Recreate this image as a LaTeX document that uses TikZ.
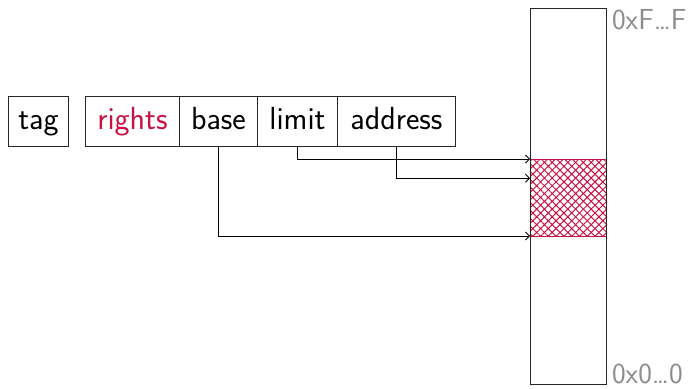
\documentclass[tikz,border=0pt]{standalone}
\usetikzlibrary{patterns.meta,calc,arrows.meta}
\definecolor{crim}{RGB}{200,16,70}
\definecolor{lab}{RGB}{140,140,140}
\begin{document}
\begin{tikzpicture}[x=1pt,y=-1pt,
  fld/.style={draw=black!85,line width=0.9pt,minimum height=50pt,inner sep=0pt,anchor=north west,
     font=\sffamily\fontsize{32}{38}\selectfont,text height=23pt,text depth=6pt},
  conn/.style={line width=0.8pt,-{Straight Barb[length=4pt,width=8pt]}},
  addr/.style={text=lab,font=\sffamily\fontsize{29}{34}\selectfont,inner sep=0pt}]
\useasboundingbox (0,0) rectangle (690,388);
\node[fld,minimum width=60pt] (tag) at (8,96) {tag};
\node[fld,minimum width=94pt,text=crim] (rights) at (85,96) {rights};
\node[fld,minimum width=78pt] (base) at (179,96) {base};
\node[fld,minimum width=80pt] (limit) at (257,96) {limit};
\node[fld,minimum width=118pt] (address) at (337,96) {address};
\node[anchor=north west,minimum width=76pt,minimum height=76pt,inner sep=0pt,
  pattern={Lines[angle=45,distance=5.5pt,line width=1pt]},pattern color=crim] (hatch) at (530,159) {};
\fill[pattern={Lines[angle=-45,distance=5.5pt,line width=1pt]},pattern color=crim] (hatch.north west) rectangle (hatch.south east);
\draw[crim,line width=0.8pt] (hatch.north west) -- (hatch.north east) (hatch.south west) -- (hatch.south east);
\node[draw=black!85,line width=0.9pt,anchor=north west,minimum width=76pt,minimum height=376pt,inner sep=0pt] (mem) at (530,8) {};
\coordinate (ap) at ($(hatch.north west)!0.25!(hatch.south west)$);
\draw[conn] (limit.south) |- (hatch.north west);
\draw[conn] (address.south) |- (ap);
\draw[conn] (base.south) |- (hatch.south west);
\node[addr,anchor=north west] (top) at ($(mem.north east)+(5,1)$) {0xF\ldots F};
\node[addr,anchor=south west] (bot) at ($(mem.south east)+(5,-1)$) {0x0\ldots 0};
\end{tikzpicture}
\end{document}
